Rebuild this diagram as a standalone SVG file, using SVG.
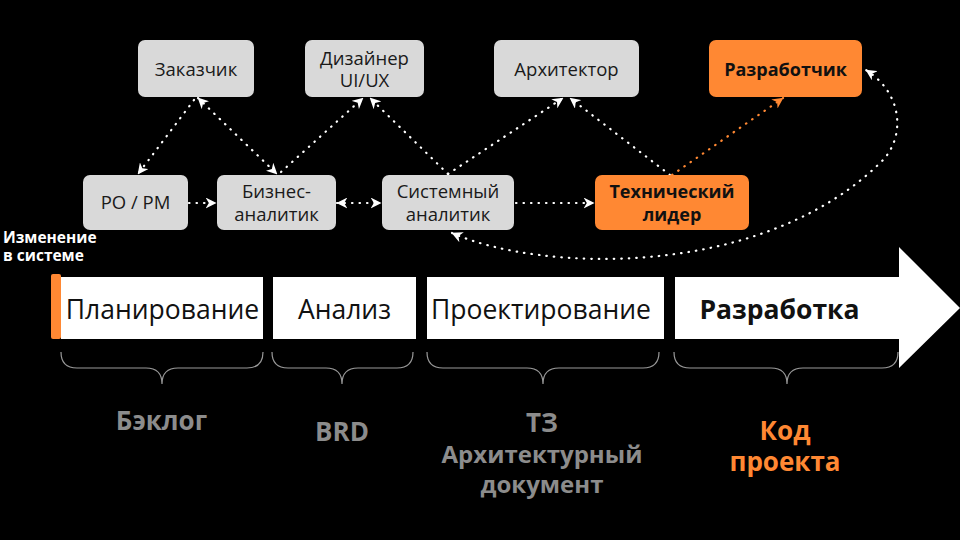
<svg xmlns="http://www.w3.org/2000/svg" width="960" height="540" viewBox="0 0 960 540">
<defs>
<style>
.node{fill:#D9D9D9;}
.hot{fill:#FF8833;}
.nt{font-family:"Open Sans","Liberation Sans",sans-serif;font-size:18.5px;fill:#1a1a1a;text-anchor:middle;}
.ntb{font-family:"Open Sans","Liberation Sans",sans-serif;font-size:18px;font-weight:700;fill:#111;text-anchor:middle;}
.phase{fill:#FFFFFF;}
.pt{font-family:"Open Sans","Liberation Sans",sans-serif;font-size:26.5px;fill:#111;text-anchor:middle;}
.ptb{font-family:"Open Sans","Liberation Sans",sans-serif;font-size:26.5px;font-weight:700;fill:#111;text-anchor:middle;}
.out{font-family:"Open Sans","Liberation Sans",sans-serif;font-size:26px;font-weight:700;fill:#8C8C8C;text-anchor:middle;}
.outs{font-family:"Open Sans","Liberation Sans",sans-serif;font-size:24px;font-weight:700;fill:#8C8C8C;text-anchor:middle;}
.outo{font-family:"Open Sans","Liberation Sans",sans-serif;font-size:26px;font-weight:700;fill:#FF8833;text-anchor:middle;}
.note{font-family:"Open Sans","Liberation Sans",sans-serif;font-size:15.5px;font-weight:700;fill:#FFFFFF;}
.dot{fill:none;stroke:#FFFFFF;stroke-width:2.2;stroke-linecap:round;stroke-dasharray:0.5 7;}
.doto{fill:none;stroke:#FF8833;stroke-width:2.2;stroke-linecap:round;stroke-dasharray:0.5 7;}
.brace{fill:none;stroke:#999999;stroke-width:1.2;}
</style>
<marker id="aw" viewBox="0 0 10 10" refX="9.5" refY="5" markerWidth="11" markerHeight="11" markerUnits="userSpaceOnUse" orient="auto-start-reverse">
<path d="M0,0 L10,5 L0,10 L3,5 z" fill="#FFFFFF"/>
</marker>
<marker id="ao" viewBox="0 0 10 10" refX="9.5" refY="5" markerWidth="11" markerHeight="11" markerUnits="userSpaceOnUse" orient="auto-start-reverse">
<path d="M0,0 L10,5 L0,10 L3,5 z" fill="#FF8833"/>
</marker>
</defs>
<rect x="0" y="0" width="960" height="540" fill="#000000"/>

<g id="connectors">
<path class="dot" d="M194,100 L138,174" marker-end="url(#aw)"/>
<path class="dot" d="M198,98 L277,174" marker-start="url(#aw)" marker-end="url(#aw)"/>
<path class="dot" d="M281,172 L363,98" marker-end="url(#aw)"/>
<path class="dot" d="M448,174 L370,98" marker-end="url(#aw)"/>
<path class="dot" d="M448,174 L563,98" marker-end="url(#aw)"/>
<path class="dot" d="M670,175 L570,98" marker-end="url(#aw)"/>
<path class="doto" d="M672,175 L783,98" marker-end="url(#ao)"/>
<path class="dot" d="M189,203 L216,203" marker-end="url(#aw)"/>
<path class="dot" d="M337,203 L381,203" marker-start="url(#aw)" marker-end="url(#aw)"/>
<path class="dot" d="M516,203 L594,203" marker-end="url(#aw)"/>
<path class="dot" d="M452,233 C540,272 760,280 880,163 C905,140 905,95 866,70" marker-start="url(#aw)" marker-end="url(#aw)"/>
</g>

<g id="n-zakazchik">
<rect class="node" x="138" y="40" width="116" height="57" rx="7"/>
<text class="nt" x="196" y="76">Заказчик</text>
</g>
<g id="n-designer">
<rect class="node" x="305" y="40" width="119" height="57" rx="7"/>
<text class="nt" x="364.5" y="65">Дизайнер</text>
<text class="nt" x="364.5" y="87">UI/UX</text>
</g>
<g id="n-architect">
<rect class="node" x="494" y="40" width="145" height="57" rx="7"/>
<text class="nt" x="566.5" y="76">Архитектор</text>
</g>
<g id="n-developer">
<rect class="hot" x="709" y="40" width="153" height="57" rx="7"/>
<text class="ntb" x="785.5" y="76">Разработчик</text>
</g>
<g id="n-popm">
<rect class="node" x="83" y="175" width="105" height="55" rx="7"/>
<text class="nt" x="135.5" y="209">PO / PM</text>
</g>
<g id="n-ba">
<rect class="node" x="217" y="175" width="119" height="55" rx="7"/>
<text class="nt" x="276.5" y="198">Бизнес-</text>
<text class="nt" x="276.5" y="221">аналитик</text>
</g>
<g id="n-sa">
<rect class="node" x="382" y="175" width="132" height="55" rx="7"/>
<text class="nt" x="448" y="198">Системный</text>
<text class="nt" x="448" y="221">аналитик</text>
</g>
<g id="n-techlead">
<rect class="hot" x="595" y="175" width="154" height="55" rx="7"/>
<text class="ntb" x="672" y="198">Технический</text>
<text class="ntb" x="672" y="221">лидер</text>
</g>

<g id="note">
<text class="note" x="3" y="243">Изменение</text>
<text class="note" x="3" y="261">в системе</text>
</g>

<g id="timeline">
<rect class="phase" x="61" y="277" width="202" height="62"/>
<rect x="51" y="274" width="10" height="65" rx="2" fill="#FF8833"/>
<text class="pt" x="162.5" y="319">Планирование</text>
<rect class="phase" x="273" y="277" width="143" height="62"/>
<text class="pt" x="344.5" y="319">Анализ</text>
<rect class="phase" x="427" y="277" width="237" height="62"/>
<text class="pt" x="541" y="319">Проектирование</text>
<polygon class="phase" points="675,277 899,277 899,247 960,308 899,368 899,339 675,339"/>
<text class="ptb" x="779.5" y="319">Разработка</text>
</g>

<g id="braces">
<path class="brace" d="M61,352 Q61,368 77,368 L146,368 Q162,368 162,384 Q162,368 178,368 L247,368 Q263,368 263,352"/>
<path class="brace" d="M272,352 Q272,368 288,368 L326,368 Q342,368 342,384 Q342,368 358,368 L397,368 Q413,368 413,352"/>
<path class="brace" d="M427,352 Q427,368 443,368 L527,368 Q543,368 543,384 Q543,368 559,368 L643,368 Q659,368 659,352"/>
<path class="brace" d="M674,352 Q674,368 690,368 L771,368 Q787,368 787,384 Q787,368 803,368 L882,368 Q898,368 898,352"/>
</g>

<g id="outputs">
<text class="out" x="161.5" y="430">Бэклог</text>
<text class="out" x="342" y="441">BRD</text>
<text class="out" x="542" y="432">ТЗ</text>
<text class="outs" x="542" y="463">Архитектурный</text>
<text class="outs" x="542" y="493">документ</text>
<text class="outo" x="785" y="440">Код</text>
<text class="outo" x="785" y="471">проекта</text>
</g>
</svg>
